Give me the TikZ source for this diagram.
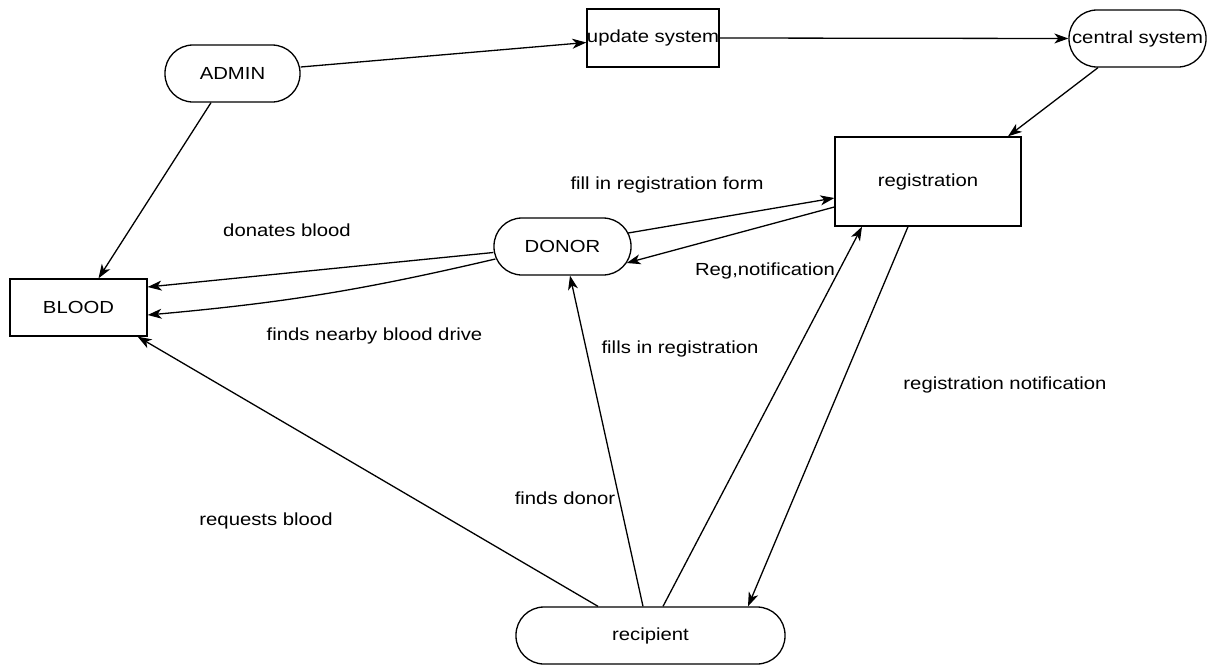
\documentclass[tikz,border=0pt]{standalone}
\usepackage{fontspec}
\setmainfont{Liberation Sans}[FakeStretch=1.16]
\usetikzlibrary{arrows.meta}

\begin{document}
\begin{tikzpicture}[x=1pt, y=-1pt, >={Stealth[length=14pt,width=10pt,inset=4pt]}, line width=1.3pt,
        font=\fontsize{17.5}{21}\selectfont,
        box/.style={draw, rectangle, inner sep=0pt},
        pill/.style={draw, rectangle, rounded corners=28pt, inner sep=0pt, minimum height=57pt}]
        \useasboundingbox (0,0) rectangle (1209,664);
        \node[pill, minimum width=135pt] (admin) at (232.5,73.5) {ADMIN};
        \node[box, minimum width=112pt, minimum height=58pt] (update) at (653,38) {update system};
        \node[pill, minimum width=137pt] (central) at (1137.5,38.5) {central system};
        \node[box, minimum width=186pt, minimum height=89pt] (reg) at (928,181.5) {registration};
        \node[pill, minimum width=137pt] (donor) at (562.5,246.5) {DONOR};
        \node[box, minimum width=137pt, minimum height=57pt] (blood) at (78.5,307.5) {BLOOD};
        \node[pill, minimum width=269pt] (recip) at (650.5,635.5) {recipient};
        \draw[->] ([yshift=6.5pt]admin.east) -- ([yshift=-4.5pt]update.west);
        \draw[->] (update.east) -- (central.west);
        \draw[->] ([xshift=-39.5pt]central.south) -- ([xshift=80pt]reg.north);
        \draw[->] ([xshift=-21.5pt]admin.south) -- ([xshift=20pt]blood.north);
        \draw[->] ([yshift=-6pt]donor.west) -- ([yshift=20.5pt]blood.east);
        \draw[->] ([xshift=2pt,yshift=-12.5pt]donor.west) to[bend left=4] ([yshift=-7.5pt]blood.east);
        \draw[->] ([xshift=-3.5pt,yshift=13.5pt]donor.east) -- ([yshift=-16.5pt]reg.west);
        \draw[->] ([yshift=-25.5pt]reg.west) -- ([xshift=-5pt,yshift=-16.5pt]donor.east);
        \draw[->] ([xshift=-52.5pt]recip.north) -- ([xshift=-10pt]blood.south east);
        \draw[->] ([xshift=-7.5pt]recip.north) -- ([xshift=7.5pt]donor.south);
        \draw[->] ([xshift=12.5pt]recip.north) -- ([xshift=-66pt]reg.south);
        \draw[->] ([xshift=-20pt]reg.south) -- ([xshift=97.5pt]recip.north);
        \node (lfill) at (667,185) {fill in registration form};
        \node (ldonates) at (287,230) {donates blood};
        \node (lregnote) at (765,271) {Reg,notification};
        \node (lnearby) at (374.5,336) {finds nearby blood drive};
        \node (lfills) at (680,349) {fills in registration};
        \node (lregnotif) at (1005,385) {registration notification};
        \node (lfinds) at (565,498) {finds donor};
        \node (lrequests) at (266,521) {requests blood};
    \end{tikzpicture}
\end{document}
